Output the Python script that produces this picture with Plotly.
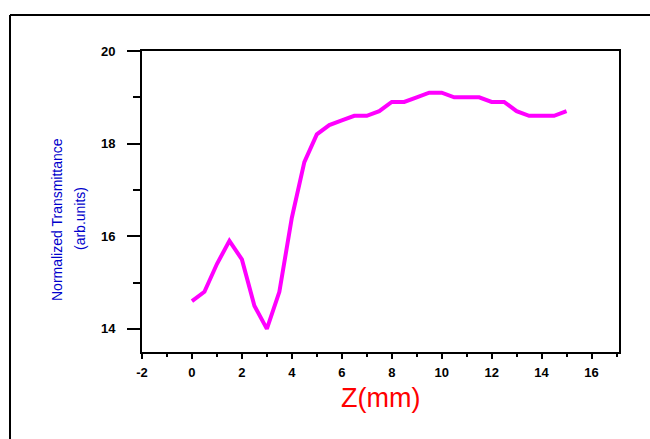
import plotly.graph_objects as go

z_mm = [0, 0.5, 1, 1.5, 2, 2.5, 3, 3.5, 4, 4.5, 5, 5.5, 6, 6.5, 7, 7.5, 8, 8.5, 9, 9.5,
        10, 10.5, 11, 11.5, 12, 12.5, 13, 13.5, 14, 14.5, 15]
transmittance = [14.6, 14.8, 15.4, 15.9, 15.5, 14.5, 14.0, 14.8, 16.4, 17.6, 18.2, 18.4, 18.5, 18.6, 18.6, 18.7, 18.9, 18.9, 19.0, 19.1,
                 19.1, 19.0, 19.0, 19.0, 18.9, 18.9, 18.7, 18.6, 18.6, 18.6, 18.7]
x_ticks = [-2, 0, 2, 4, 6, 8, 10, 12, 14, 16]
y_ticks = [14, 16, 18, 20]

W, H = 650, 439
L, R, T, B = 142, 619, 51, 352
pw, ph = R - L, B - T

def px(x):
    return (x - L) / pw

def py(y):
    return (B - y) / ph

fig = go.Figure()
fig.add_trace(go.Scatter(x=z_mm, y=transmittance, mode="lines",
                         line=dict(color="#FF00FF", width=4), showlegend=False))

tickfont = dict(family="Liberation Sans, Arial, sans-serif", size=13, color="black", weight="bold")

fig.update_layout(
    width=W, height=H,
    margin=dict(l=L, r=W - R, t=T, b=H - B, pad=0),
    paper_bgcolor="white", plot_bgcolor="white",
    xaxis=dict(range=[-2, 17.1], tickvals=x_ticks, ticktext=[str(v) for v in x_ticks],
               showgrid=False, zeroline=False, showline=True, linecolor="black", linewidth=2,
               mirror=True, ticks="outside", ticklen=5, tickwidth=2, tickcolor="black",
               minor=dict(dtick=1, tick0=0, ticks="outside", ticklen=3, tickwidth=2, tickcolor="black"),
               tickfont=tickfont, ticklabelstandoff=2),
    yaxis=dict(range=[13.5, 20], tickvals=y_ticks, ticktext=[str(v) for v in y_ticks],
               showgrid=False, zeroline=False, showline=True, linecolor="black", linewidth=2,
               mirror=True, ticks="outside", ticklen=13, tickwidth=2, tickcolor="black",
               minor=dict(dtick=1, tick0=0, ticks="outside", ticklen=7, tickwidth=2, tickcolor="black"),
               tickfont=tickfont, ticklabelstandoff=9),
    font=dict(family="Liberation Sans, Arial, sans-serif"),
)

fig.add_annotation(text="Z(mm)", xref="paper", yref="paper", x=px(380), y=py(398),
                   xanchor="center", yanchor="middle", showarrow=False,
                   font=dict(family="Liberation Sans, Arial, sans-serif", size=27, color="#FF0000"))
fig.add_annotation(text="Normalized Transmittance", xref="paper", yref="paper", x=px(57), y=py(220),
                   xanchor="center", yanchor="middle", showarrow=False, textangle=-90,
                   font=dict(family="Liberation Sans, Arial, sans-serif", size=14, color="#0000CC"))
fig.add_annotation(text="(arb.units)", xref="paper", yref="paper", x=px(80), y=py(219),
                   xanchor="center", yanchor="middle", showarrow=False, textangle=-90,
                   font=dict(family="Liberation Sans, Arial, sans-serif", size=14, color="#0000CC"))

# outer frame (open to the right and bottom, as in the reference)
fig.add_shape(type="line", xref="paper", yref="paper", x0=px(10), y0=py(15), x1=px(660), y1=py(15),
              line=dict(color="black", width=2))
fig.add_shape(type="line", xref="paper", yref="paper", x0=px(10), y0=py(15), x1=px(10), y1=py(450),
              line=dict(color="black", width=2))

fig.write_html("out.html", config={"displayModeBar": False},
               post_script="document.body.style.margin='0';document.body.style.overflow='hidden';")
